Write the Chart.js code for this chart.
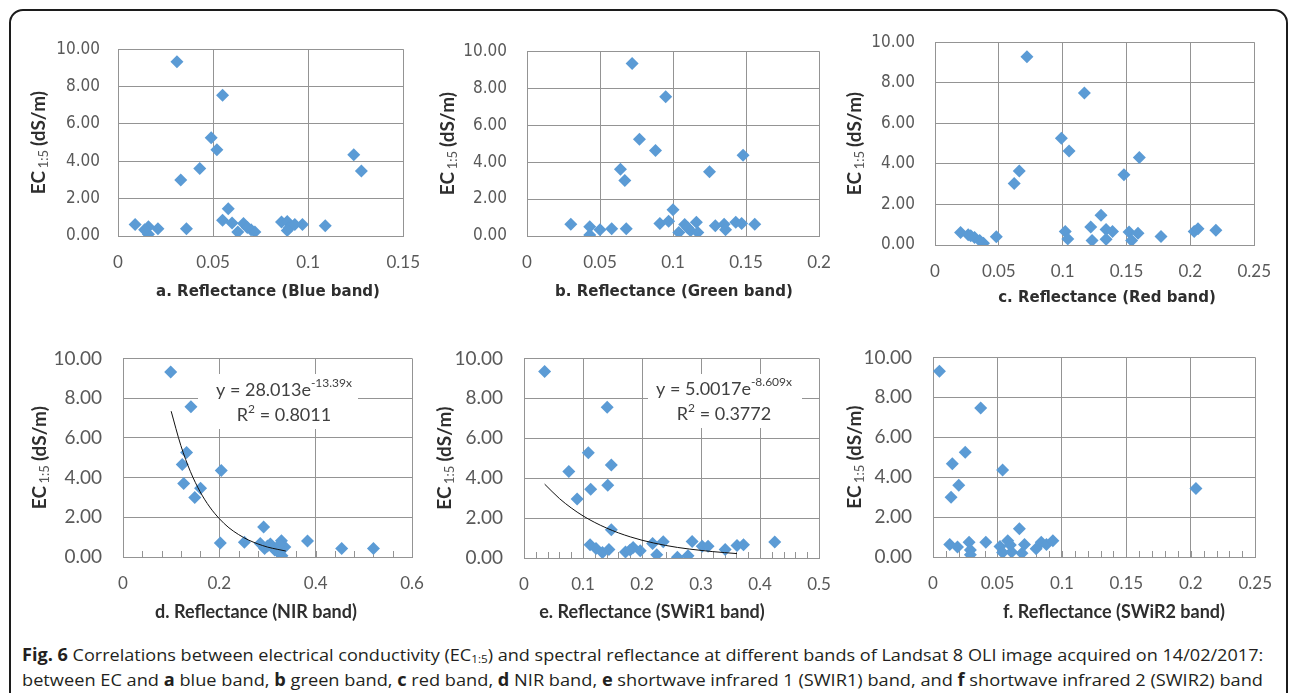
<!DOCTYPE html>
<html lang="en">
<head>
<meta charset="UTF-8">
<title>Fig. 6 EC vs reflectance</title>
<script src="https://cdn.jsdelivr.net/npm/chart.js"></script>
<style>
  body { margin: 0; background: #fff; width: 1292px; height: 693px; overflow: hidden; position: relative; font-family: Lato, sans-serif; }
  .frame { position: absolute; left: 9px; top: 9px; width: 1275px; height: 720px; border: 2px solid #1c1c1c; border-radius: 14px; }
  canvas.panel { position: absolute; }
  .caption { position: absolute; left: 22px; height: 22px; line-height: 22px; font-family: "Open Sans", sans-serif; font-size: 17px; color: #231f20; white-space: nowrap; transform-origin: 0 50%; }
  .caption sub { font-size: 11px; line-height: 0; vertical-align: -2px; }
</style>
</head>
<body>
<div class="frame"></div>
<div class="caption" style="top:644px"><b>Fig. 6</b> Correlations between electrical conductivity (EC<sub>1:5</sub>) and spectral reflectance at different bands of Landsat 8 OLI image acquired on 14/02/2017:</div>
<div class="caption" style="top:669px">between EC and <b>a</b> blue band, <b>b</b> green band, <b>c</b> red band, <b>d</b> NIR band, <b>e</b> shortwave infrared 1 (SWIR1) band, and <b>f</b> shortwave infrared 2 (SWIR2) band</div>

<script>
// reflectance (x) and EC1:5 in dS/m (y)
const blueX = [0.031, 0.055, 0.049, 0.052, 0.043, 0.033, 0.124, 0.128, 0.058, 0.009, 0.016, 0.016, 0.021, 0.014, 0.036, 0.055, 0.060, 0.063, 0.066, 0.070, 0.072, 0.068, 0.086, 0.089, 0.090, 0.093, 0.097, 0.089, 0.109];
const blueEC = [9.33, 7.53, 5.26, 4.62, 3.61, 3.00, 4.35, 3.48, 1.46, 0.62, 0.50, 0.09, 0.39, 0.33, 0.39, 0.84, 0.70, 0.21, 0.67, 0.33, 0.22, 0.45, 0.75, 0.77, 0.43, 0.62, 0.62, 0.30, 0.55];

const greenX = [0.072, 0.095, 0.077, 0.088, 0.148, 0.064, 0.067, 0.125, 0.100, 0.030, 0.043, 0.043, 0.050, 0.058, 0.068, 0.091, 0.097, 0.104, 0.108, 0.112, 0.116, 0.117, 0.129, 0.135, 0.136, 0.143, 0.147, 0.156, 0.110];
const greenEC = [9.33, 7.53, 5.24, 4.62, 4.37, 3.61, 3.00, 3.48, 1.42, 0.63, 0.50, 0.05, 0.34, 0.39, 0.39, 0.68, 0.80, 0.19, 0.62, 0.29, 0.74, 0.19, 0.55, 0.63, 0.34, 0.75, 0.67, 0.63, 0.45];

const redX = [0.072, 0.117, 0.099, 0.105, 0.160, 0.066, 0.062, 0.148, 0.130, 0.020, 0.026, 0.031, 0.038, 0.035, 0.048, 0.102, 0.104, 0.122, 0.123, 0.134, 0.134, 0.139, 0.152, 0.154, 0.159, 0.177, 0.203, 0.206, 0.220, 0.028];
const redEC = [9.28, 7.49, 5.26, 4.63, 4.32, 3.65, 3.03, 3.46, 1.47, 0.62, 0.51, 0.37, 0.09, 0.22, 0.41, 0.66, 0.30, 0.89, 0.22, 0.76, 0.28, 0.66, 0.64, 0.22, 0.58, 0.42, 0.66, 0.80, 0.73, 0.45];

const nirX = [0.099, 0.141, 0.132, 0.123, 0.204, 0.126, 0.161, 0.149, 0.292, 0.202, 0.252, 0.285, 0.294, 0.306, 0.315, 0.329, 0.330, 0.336, 0.320, 0.383, 0.454, 0.520, 0.300, 0.325];
const nirEC = [9.32, 7.56, 5.26, 4.66, 4.36, 3.70, 3.46, 2.99, 1.51, 0.71, 0.74, 0.68, 0.43, 0.66, 0.35, 0.82, 0.06, 0.50, 0.30, 0.80, 0.43, 0.43, 0.55, 0.62];

const swir1X = [0.035, 0.141, 0.109, 0.148, 0.076, 0.142, 0.113, 0.090, 0.148, 0.112, 0.122, 0.133, 0.144, 0.172, 0.185, 0.197, 0.218, 0.225, 0.236, 0.260, 0.278, 0.285, 0.302, 0.312, 0.341, 0.361, 0.372, 0.425, 0.180];
const swir1EC = [9.34, 7.55, 5.27, 4.66, 4.33, 3.64, 3.44, 2.95, 1.41, 0.67, 0.47, 0.27, 0.42, 0.30, 0.52, 0.36, 0.73, 0.16, 0.81, 0.04, 0.11, 0.83, 0.59, 0.59, 0.42, 0.63, 0.67, 0.80, 0.40];

const swir2X = [0.005, 0.037, 0.025, 0.015, 0.054, 0.020, 0.014, 0.204, 0.067, 0.013, 0.019, 0.028, 0.029, 0.029, 0.041, 0.052, 0.054, 0.058, 0.061, 0.069, 0.071, 0.080, 0.084, 0.088, 0.093, 0.060];
const swir2EC = [9.31, 7.47, 5.25, 4.67, 4.36, 3.60, 2.99, 3.43, 1.42, 0.63, 0.50, 0.74, 0.35, 0.11, 0.74, 0.53, 0.22, 0.82, 0.25, 0.19, 0.63, 0.41, 0.74, 0.63, 0.82, 0.60];

// exponential trend lines as drawn
const nirTrendX = [0.10, 0.12, 0.14, 0.16, 0.18, 0.20, 0.22, 0.24, 0.26, 0.28, 0.30, 0.32, 0.338];
const nirTrendY = [7.34, 5.62, 4.30, 3.29, 2.52, 1.93, 1.47, 1.13, 0.86, 0.66, 0.50, 0.39, 0.30];
const swir1TrendX = [0.035, 0.06, 0.08, 0.10, 0.12, 0.14, 0.16, 0.18, 0.20, 0.22, 0.24, 0.26, 0.28, 0.30, 0.32, 0.34, 0.361];
const swir1TrendY = [3.70, 2.98, 2.51, 2.11, 1.78, 1.50, 1.26, 1.06, 0.89, 0.75, 0.63, 0.53, 0.45, 0.38, 0.32, 0.27, 0.22];

const yTicks = [0, 2, 4, 6, 8, 10];

const GRID = '#949494';
const TICK = '#595959';
const TITLE = '#2e2e2e';
const BLUE = '#5b9bd5';

const decor = {
  id: 'decor',
  beforeDatasetsDraw(chart, args, o) {
    const { ctx, chartArea: a, scales: { x } } = chart;
    ctx.save();
    if (o.minor) {
      ctx.strokeStyle = GRID;
      ctx.lineWidth = 1;
      const n = Math.round(x.max / o.minor);
      for (let i = 1; i < n; i++) {
        const px = Math.round(x.getPixelForValue(i * o.minor)) + 0.5;
        ctx.beginPath();
        ctx.moveTo(px, a.bottom);
        ctx.lineTo(px, a.bottom - 6);
        ctx.stroke();
      }
    }
    if (o.eq) {
      const e = o.eq;
      ctx.fillStyle = '#fff';
      ctx.fillRect(e.x0 - o.offX, e.y0 - o.offY, e.x1 - e.x0, e.y1 - e.y0);
      ctx.fillStyle = '#404040';
      ctx.textBaseline = 'middle';
      ctx.textAlign = 'left';
      // line 1: y = a e^(bx)
      ctx.font = '18px Lato';
      const w1 = ctx.measureText(e.main).width;
      ctx.font = '12px Lato';
      const w2 = ctx.measureText(e.sup).width;
      let sx = e.cx - o.offX - (w1 + w2) / 2;
      const ly = e.cy - o.offY;
      ctx.font = '18px Lato';
      ctx.fillText(e.main, sx, ly);
      ctx.font = '12px Lato';
      ctx.fillText(e.sup, sx + w1, ly - 7);
      // line 2: R² = ...
      ctx.font = '18px Lato';
      const r1 = ctx.measureText('R').width;
      const r3 = ctx.measureText(' = ' + e.r2).width;
      ctx.font = '12px Lato';
      const r2 = ctx.measureText('2').width;
      sx = e.cx - o.offX - (r1 + r2 + r3) / 2;
      const ly2 = ly + 25;
      ctx.font = '18px Lato';
      ctx.fillText('R', sx, ly2);
      ctx.font = '12px Lato';
      ctx.fillText('2', sx + r1, ly2 - 6);
      ctx.font = '18px Lato';
      ctx.fillText(' = ' + e.r2, sx + r1 + r2, ly2);
    }
    ctx.restore();
  },
  afterDraw(chart, args, o) {
    const { ctx, chartArea: a } = chart;
    ctx.save();
    // x title
    ctx.fillStyle = TITLE;
    ctx.font = o.titleFont;
    ctx.textAlign = 'center';
    ctx.textBaseline = 'middle';
    ctx.fillText(o.title, o.titleX - o.offX, o.titleY - o.offY);
    // y title with subscript, rotated
    const cy = (a.top + a.bottom) / 2;
    ctx.translate(o.yTitleX - o.offX, cy);
    ctx.rotate(-Math.PI / 2);
    const bold = 'bold 19px Lato', small = '13px Lato';
    ctx.font = bold;
    const wEC = ctx.measureText('EC ').width;
    const wUnit = ctx.measureText('(dS/m)').width;
    ctx.font = small;
    const wSub = ctx.measureText('1:5').width + 2;
    const tx = -(wEC + wSub + wUnit) / 2;
    ctx.textAlign = 'left';
    ctx.font = bold;
    ctx.fillText('EC ', tx, 0);
    ctx.font = small;
    ctx.fillStyle = '#555';
    ctx.fillText('1:5', tx + wEC - 2, 5);
    ctx.fillStyle = TITLE;
    ctx.font = bold;
    ctx.fillText('(dS/m)', tx + wEC + wSub, 0);
    ctx.restore();
  }
};

const padL = 110, padT = 20, padR = 30, padB = 80;

function makePanel(p, xs, ys, trendX, trendY) {
  const cv = document.createElement('canvas');
  cv.className = 'panel';
  cv.width = p.right - p.left + padL + padR;
  cv.height = p.bottom - p.top + padT + padB;
  const offX = p.left - padL, offY = p.top - padT;
  cv.style.left = offX + 'px';
  cv.style.top = offY + 'px';
  document.body.appendChild(cv);

  const datasets = [{
    data: xs.map((x, i) => ({ x: x, y: ys[i] })),
    pointStyle: 'rectRot',
    pointRadius: 6.5,
    backgroundColor: BLUE,
    borderColor: BLUE,
    borderWidth: 0
  }];
  if (trendX) {
    datasets.unshift({
      type: 'line',
      data: trendX.map((x, i) => ({ x: x, y: trendY[i] })),
      borderColor: '#111',
      borderWidth: 1,
      pointRadius: 0,
      cubicInterpolationMode: 'monotone',
      fill: false
    });
  }

  new Chart(cv, {
    type: 'scatter',
    data: { datasets: datasets },
    options: {
      responsive: false,
      animation: false,
      events: [],
      layout: { padding: { left: 0, top: padT, right: padR, bottom: 0 } },
      plugins: {
        legend: { display: false },
        tooltip: { enabled: false },
        decor: Object.assign({ offX: offX, offY: offY }, p)
      },
      scales: {
        x: {
          type: 'linear', min: 0, max: p.xMax,
          border: { color: GRID, width: 1 },
          grid: { color: GRID, drawTicks: false },
          ticks: {
            stepSize: p.xStep, padding: 16, color: TICK, font: { family: 'Lato', size: 17 },
            maxRotation: 0, autoSkip: false,
            callback: v => String(+v.toFixed(4))
          },
          afterFit: s => { s.height = padB; }
        },
        y: {
          type: 'linear', min: yTicks[0], max: yTicks[yTicks.length - 1],
          border: { color: GRID, width: 1 },
          grid: { color: GRID, drawTicks: false },
          ticks: {
            stepSize: yTicks[1] - yTicks[0], padding: p.yPad, color: TICK, font: p.yTickFont,
            callback: v => v.toFixed(2)
          },
          afterFit: s => { s.width = padL; }
        }
      }
    },
    plugins: [decor]
  });
}

const topY = { family: '"DejaVu Sans Condensed", "DejaVu Sans"', size: 17 };
const botY = { family: 'Lato', size: 19 };
const topTitle = 'bold 15px "DejaVu Sans"';
const botTitle = 'bold 18px Lato';

makePanel({ left: 118, top: 41, right: 406, bottom: 236, xMax: 0.15, xStep: 0.05, yPad: 18, yTickFont: topY,
  title: 'a. Reflectance (Blue band)', titleFont: topTitle, titleX: 268, titleY: 292, yTitleX: 39 }, blueX, blueEC);
makePanel({ left: 527, top: 41, right: 819, bottom: 236, xMax: 0.2, xStep: 0.05, yPad: 20, yTickFont: topY,
  title: 'b. Reflectance (Green band)', titleFont: topTitle, titleX: 674, titleY: 292, yTitleX: 448 }, greenX, greenEC);
makePanel({ left: 935, top: 32, right: 1257, bottom: 245, xMax: 0.25, xStep: 0.05, yPad: 20, yTickFont: topY,
  title: 'c. Reflectance (Red band)', titleFont: topTitle, titleX: 1107, titleY: 298, yTitleX: 855 }, redX, redEC);
makePanel({ left: 123, top: 346, right: 412, bottom: 557, xMax: 0.6, xStep: 0.2, minor: 0.04, yPad: 21, yTickFont: botY,
  title: 'd. Reflectance (NIR band)', titleFont: botTitle, titleX: 256, titleY: 612, yTitleX: 40,
  eq: { main: 'y = 28.013e', sup: '-13.39x', r2: '0.8011', cx: 284, cy: 390, x0: 198, x1: 358, y0: 374, y1: 429 } },
  nirX, nirEC, nirTrendX, nirTrendY);
makePanel({ left: 524, top: 346, right: 819, bottom: 558, xMax: 0.5, xStep: 0.1, minor: 0.02, yPad: 21, yTickFont: botY,
  title: 'e. Reflectance (SWiR1 band)', titleFont: botTitle, titleX: 652, titleY: 612, yTitleX: 445,
  eq: { main: 'y = 5.0017e', sup: '-8.609x', r2: '0.3772', cx: 724, cy: 389, x0: 648, x1: 802, y0: 374, y1: 428 } },
  swir1X, swir1EC, swir1TrendX, swir1TrendY);
makePanel({ left: 933, top: 345, right: 1258, bottom: 557, xMax: 0.25, xStep: 0.05, minor: 0.01, yPad: 21, yTickFont: botY,
  title: 'f. Reflectance (SWiR2 band)', titleFont: botTitle, titleX: 1114, titleY: 612, yTitleX: 855 }, swir2X, swir2EC);

// squeeze caption lines to the printed width (the original uses a condensed face)
document.querySelectorAll('.caption').forEach(el => {
  el.style.transform = 'scaleX(' + (1241 / el.scrollWidth) + ')';
});
</script>
</body>
</html>
